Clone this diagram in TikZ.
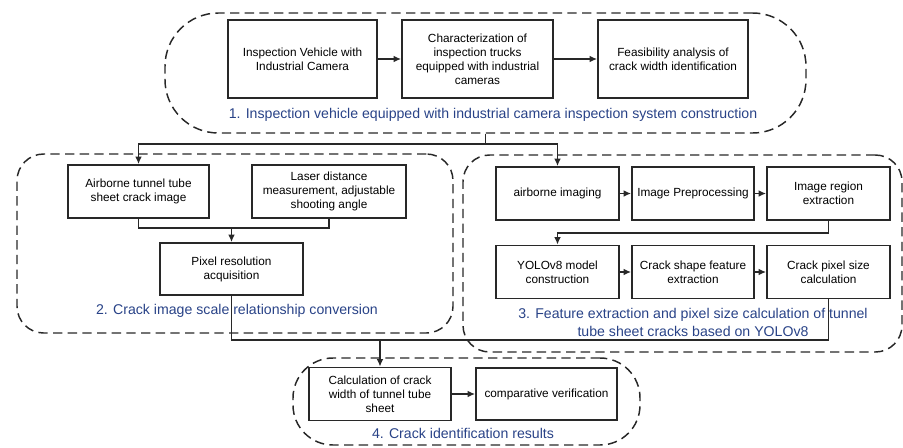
\documentclass[tikz,border=0pt]{standalone}
\usepackage{fontspec}
\setmainfont{Liberation Sans}
\usetikzlibrary{arrows.meta,positioning,fit,calc}
\definecolor{titleblue}{RGB}{40,66,135}
\definecolor{linegray}{RGB}{40,40,40}

\begin{document}
\begin{tikzpicture}[x=0.75pt,y=-0.75pt,->,>={Latex[length=5.5pt,width=5pt]},line width=1.3pt,draw=linegray,
  box/.style={draw=linegray,line width=1.4pt,align=center,inner sep=2pt,minimum height=39.75pt,font=\fontsize{8.85}{10.5}\selectfont},
  grp/.style={draw=linegray,line width=1.1pt,dash pattern=on 7pt off 4pt,inner sep=0pt},
  ttl/.style={text=titleblue,align=center,inner sep=0pt,font=\fontsize{10.6}{13.5}\selectfont}]

\useasboundingbox (0,0) rectangle (903,447);

% 1. inspection system
\node[box,minimum width=111.75pt,minimum height=58.5pt](v1) at (302.5,59) {Inspection Vehicle with\\Industrial Camera};
\node[box,minimum width=113.25pt,minimum height=58.5pt](v2) at (477.5,59) {Characterization of\\inspection trucks\\equipped with industrial\\cameras};
\node[box,minimum width=112.5pt,minimum height=58.5pt](v3) at (673,59) {Feasibility analysis of\\crack width identification};
\node[grp,rounded corners=40pt,fit={(165,13) (806,133)}](g1) {};
\node[ttl](t1) at (493,115) {1. Inspection vehicle equipped with industrial camera inspection system construction};

% 2. scale conversion
\node[box,minimum width=105.75pt](c1) at (138.5,191.5) {Airborne tunnel tube\\sheet crack image};
\node[box,minimum width=115.5pt](c2) at (329,191.5) {Laser distance\\measurement, adjustable\\shooting angle};
\node[box,minimum width=107.25pt,minimum height=39pt](c3) at (231.5,269) {Pixel resolution\\acquisition};
\node[grp,rounded corners=20pt,fit={(17,154) (453,333)}](g2) {};
\node[ttl](t2) at (237,311) {2. Crack image scale relationship conversion};

% 3. feature extraction
\node[box,minimum width=92.25pt](f1) at (557.5,193.5) {airborne imaging};
\node[box,minimum width=91.5pt](f2) at (693,193.5) {Image Preprocessing};
\node[box,minimum width=92.25pt](f3) at (828.5,193.5) {Image region\\extraction};
\node[box,minimum width=92.25pt](f4) at (557.5,272) {YOLOv8 model\\construction};
\node[box,minimum width=91.5pt](f5) at (693,272) {Crack shape feature\\extraction};
\node[box,minimum width=92.25pt](f6) at (828.5,272) {Crack pixel size\\calculation};
\node[grp,rounded corners=20pt,fit={(463,155) (902,352)}](g3) {};
\node[ttl](t3) at (693,322) {3. Feature extraction and pixel size calculation of tunnel\\tube sheet cracks based on YOLOv8};

% 4. results
\node[box,minimum width=106.5pt](r1) at (380,394) {Calculation of crack\\width of tunnel tube\\sheet};
\node[box,minimum width=105.75pt,minimum height=39pt](r2) at (546.5,394) {comparative verification};
\node[grp,rounded corners=30pt,fit={(293,358) (640,445)}](g4) {};
\node[ttl](t4) at (463,433) {4. Crack identification results};

\draw (v1) -- (v2);
\draw (v2) -- (v3);

\coordinate (j1) at ($(g1.south)+(0,10)$);
\draw[-] (g1.south) -- (j1);
\draw (j1) -| (c1.north);
\draw (j1) -| (f1.north);

\coordinate (j2) at ($(c3.north)+(0,-14)$);
\draw[-] (c1.south) |- (j2) -| (c2.south);
\draw (j2) -- (c3.north);

\draw (f1) -- (f2);
\draw (f2) -- (f3);
\coordinate (j3) at ($(f3.south)+(0,12)$);
\draw (f3.south) -- (j3) -| (f4.north);
\draw (f4) -- (f5);
\draw (f5) -- (f6);

\coordinate (j4) at ($(c3.south)+(0,44)$);
\draw[-] (c3.south) -- (j4) -- (j4 -| f6.south) -- (f6.south);
\draw (j4 -| r1.north) -- (r1.north);
\draw (r1) -- (r2);

\end{tikzpicture}
\end{document}
